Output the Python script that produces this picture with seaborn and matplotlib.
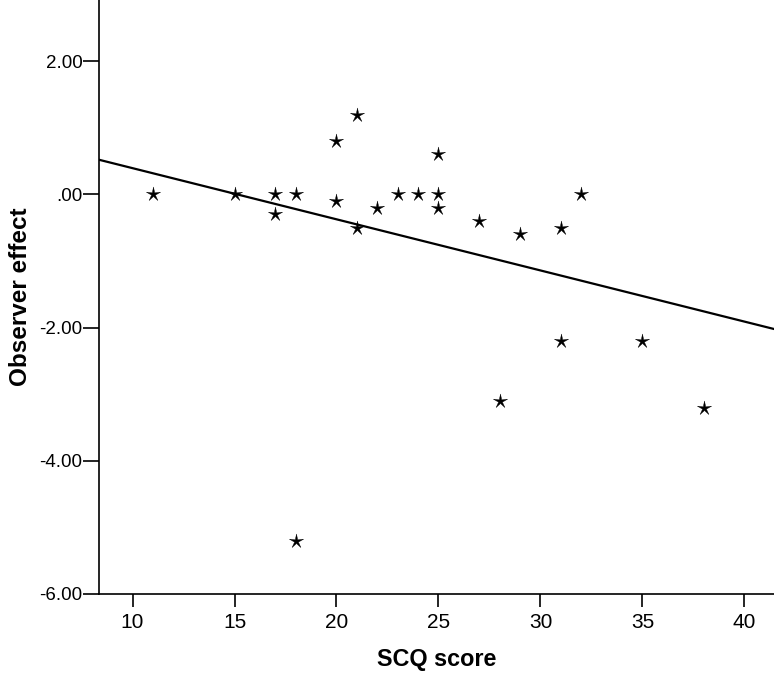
import matplotlib
matplotlib.use("Agg")
import numpy as np
import matplotlib.pyplot as plt
import seaborn as sns
import pandas as pd
from matplotlib.ticker import FuncFormatter
from matplotlib.path import Path

scq_score = [11, 15, 17, 17, 18, 18, 20, 20, 21, 21, 22, 23, 24, 25, 25, 25,
             27, 28, 29, 31, 31, 32, 35, 38]
observer_effect = [0.0, 0.0, 0.0, -0.3, 0.0, -5.2, 0.8, -0.1, 1.2, -0.5, -0.2, 0.0,
                   0.0, 0.6, 0.0, -0.2, -0.4, -3.1, -0.6, -0.5, -2.2, 0.0, -2.2, -3.2]
x_ticks = [10, 15, 20, 25, 30, 35, 40]
y_ticks = [-6, -4, -2, 0, 2]

df = pd.DataFrame({"SCQ score": scq_score, "Observer effect": observer_effect})

sns.set_style("white")
plt.rcParams["font.family"] = ["Liberation Sans", "DejaVu Sans"]
plt.rcParams["text.color"] = "black"
plt.rcParams["axes.labelcolor"] = "black"
plt.rcParams["xtick.color"] = "black"
plt.rcParams["ytick.color"] = "black"

# thin five-pointed star marker
ang_out = np.deg2rad(90 + 72 * np.arange(5))
ang_in = ang_out + np.deg2rad(36)
verts = []
for ao, ai in zip(ang_out, ang_in):
    verts.append((np.cos(ao), np.sin(ao)))
    verts.append((0.27 * np.cos(ai), 0.27 * np.sin(ai)))
verts.append(verts[0])
codes = [Path.MOVETO] + [Path.LINETO] * 9 + [Path.CLOSEPOLY]
star = Path(verts, codes)

fig = plt.figure(figsize=(7.74, 6.73), dpi=100)
ax = fig.add_axes([0.128, 0.1174, 0.872, 0.8826])
ax.set_xlim(8.36, 41.45)
ax.set_ylim(-6.0, 2.92)

sns.scatterplot(data=df, x="SCQ score", y="Observer effect", ax=ax,
                marker=star, s=115, color="black", edgecolor="black", linewidth=0.3,
                zorder=3)
sns.regplot(data=df, x="SCQ score", y="Observer effect", ax=ax, scatter=False,
            ci=None, truncate=False, color="black", line_kws={"linewidth": 1.6})
ax.set_xlim(8.36, 41.45)
ax.set_ylim(-6.0, 2.92)

ax.set_xticks(x_ticks)
ax.set_yticks(y_ticks)

def yfmt(v, pos):
    s = f"{v:.2f}"
    if s in ("0.00", "-0.00"):
        return ".00"
    return s

ax.yaxis.set_major_formatter(FuncFormatter(yfmt))
for s in ["top", "right"]:
    ax.spines[s].set_visible(False)
for s in ["left", "bottom"]:
    ax.spines[s].set_color("black")
    ax.spines[s].set_linewidth(1.2)

ax.tick_params(axis="y", which="major", direction="out", length=11.5, width=1.2,
               color="black", labelsize=13.5, pad=0.5, left=True)
ax.tick_params(axis="x", which="major", direction="out", length=9, width=1.2,
               color="black", labelsize=15, pad=5, bottom=True)

ax.set_xlabel("SCQ score", fontsize=16.8, fontweight="bold", labelpad=11.5)
ax.set_ylabel("Observer effect", fontsize=17.5, fontweight="bold", labelpad=5)

fig.savefig("out.png", dpi=100)
